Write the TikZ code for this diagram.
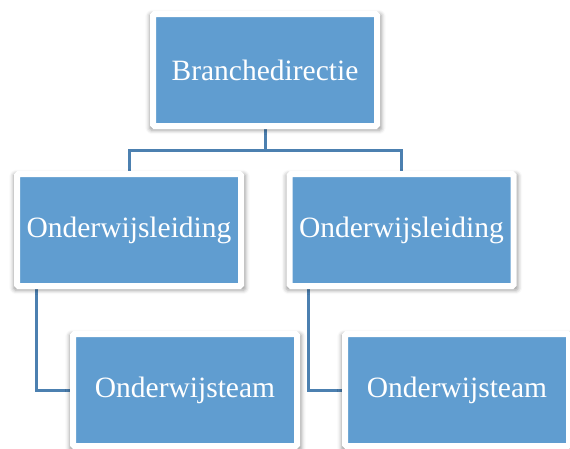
\documentclass[tikz,border=0pt]{standalone}
\usepackage{fontspec}
\setmainfont{Liberation Serif}
\usetikzlibrary{backgrounds,shadows.blur}
\definecolor{boxblue}{RGB}{96,157,208}
\definecolor{lineblue}{RGB}{76,128,176}
\begin{document}
\begin{tikzpicture}[x=1pt,y=-1pt,
  orgbox/.style={rectangle,rounded corners=1.5pt,fill=boxblue,draw=white,line width=6pt,
    minimum width=224pt,minimum height=112pt,inner sep=0pt,
    text=white,font=\fontsize{29.5}{33}\selectfont,
    blur shadow={shadow xshift=0.5pt,shadow yshift=-2pt,shadow scale=1.035,
      shadow blur radius=4pt,shadow opacity=40}},
  orgline/.style={draw=lineblue,line width=3pt}]
\useasboundingbox (0,0) rectangle (570,448);
\node[orgbox] (dir) at (265,70) {Branchedirectie};
\node[orgbox] (leidA) at (129,230) {Onderwijsleiding};
\node[orgbox] (leidB) at (401.5,230) {Onderwijsleiding};
\node[orgbox] (teamA) at (185,390) {Onderwijsteam};
\node[orgbox] (teamB) at (457,390) {Onderwijsteam};
\coordinate (bus) at (265,150);
\begin{scope}[on background layer]
\foreach\l in {leidA,leidB} {
  \draw[orgline] (dir.south) -- (bus) -| (\l.north);
}
\foreach\l/\t in {leidA/teamA,leidB/teamB} {
  \draw[orgline] ([xshift=22pt]\l.south west) |- (\t.west);
}
\end{scope}
\end{tikzpicture}
\end{document}
